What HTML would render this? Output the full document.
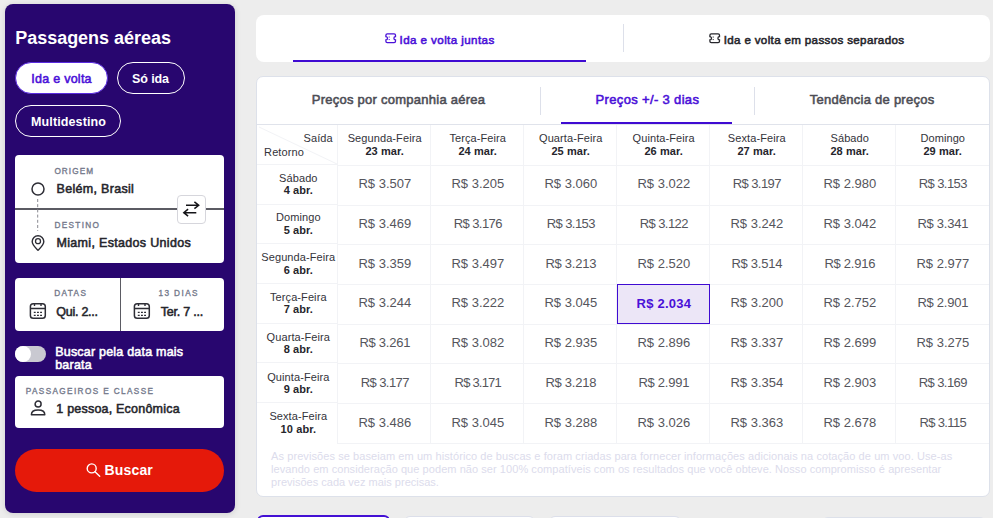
<!DOCTYPE html>
<html lang="pt-BR">
<head>
<meta charset="utf-8">
<title>Passagens aéreas</title>
<style>
*{box-sizing:border-box;margin:0;padding:0}
html,body{width:993px;height:518px;overflow:hidden}
body{background:#ededed;font-family:"Liberation Sans",sans-serif;color:#222;position:relative}
.a{position:absolute}
.t{position:absolute;white-space:nowrap;line-height:1}
#side{left:5px;top:4px;width:230px;height:509px;background:#28066f;border-radius:8px;box-shadow:0 1px 6px rgba(0,0,0,.13)}
.pill{position:absolute;height:32px;border:1px solid #fff;border-radius:16px}
.pill.on{background:#fff;border-color:#5a2be0}
.card{position:absolute;background:#fff;border-radius:4px}
#tabs{left:256px;top:15px;width:734px;height:47px;background:#fff;border-radius:8px}
#tbl{left:256px;top:76px;width:734px;height:421px;background:#fff;border:1px solid #dde1ea;border-radius:7px}
</style>
</head>
<body>

<!-- sidebar -->
<div class="a" id="side"></div>
<div class="pill on" style="left:15px;top:62px;width:93px"></div>
<div class="pill" style="left:117px;top:62px;width:68px"></div>
<div class="pill" style="left:15px;top:105px;width:106px"></div>

<div class="card" style="left:15px;top:155px;width:209px;height:108px"></div>
<div class="a" style="left:15px;top:208px;width:209px;height:2px;background:#5b5b63"></div>
<svg class="a" style="left:30px;top:181px" width="16" height="72" viewBox="0 0 16 72">
  <circle cx="8" cy="8" r="6" fill="none" stroke="#2e2e36" stroke-width="1.500"/>
  <line x1="7.700" y1="18" x2="7.700" y2="50" stroke="#8a8a92" stroke-width="1" stroke-dasharray="3 2.200"/>
  <path d="M8 69.300C5.500 66.800 2.200 64 2.200 60.600a5.800 5.800 0 0 1 11.600 0C13.800 64 10.500 66.800 8 69.300z" fill="none" stroke="#2e2e36" stroke-width="1.400" stroke-linejoin="round"/>
  <circle cx="8" cy="60.200" r="2.500" fill="none" stroke="#2e2e36" stroke-width="1.300"/>
</svg>
<div class="a" style="left:177px;top:195px;width:29px;height:29px;background:#fff;border:1px solid #d6d6dc;border-radius:4px"></div>
<svg class="a" style="left:177px;top:195px" width="29" height="29" viewBox="0 0 29 29">
  <path d="M9 10.250H21.500M17.400 6.800L21.700 10.250L17.400 13.700" fill="none" stroke="#141418" stroke-width="1.500"/>
  <path d="M19.300 17.700H7M11.100 14.200L6.800 17.700L11.100 21.200" fill="none" stroke="#141418" stroke-width="1.500"/>
</svg>

<div class="card" style="left:15px;top:278px;width:209px;height:53px"></div>
<div class="a" style="left:120px;top:278px;width:1px;height:53px;background:#5b5b63"></div>
<svg class="a" style="left:29px;top:302px" width="18" height="18" viewBox="0 0 18 18">
  <rect x="1.400" y="1.700" width="14.900" height="14.600" rx="2.800" fill="none" stroke="#2e2e36" stroke-width="1.500"/>
  <path d="M1.400 6.500h14.900M5.500 0.900v3M12 0.900v3" stroke="#2e2e36" stroke-width="1.400" fill="none"/>
  <path d="M4.800 10.300h1.900M8 10.300h1.900M11.100 10.300h1.900M4.800 13.300h1.900M8 13.300h1.900M11.100 13.300h1.900" stroke="#2e2e36" stroke-width="1.300"/>
</svg>
<svg class="a" style="left:133px;top:302px" width="18" height="18" viewBox="0 0 18 18">
  <rect x="1.400" y="1.700" width="14.900" height="14.600" rx="2.800" fill="none" stroke="#2e2e36" stroke-width="1.500"/>
  <path d="M1.400 6.500h14.900M5.500 0.900v3M12 0.900v3" stroke="#2e2e36" stroke-width="1.400" fill="none"/>
  <path d="M4.800 10.300h1.900M8 10.300h1.900M11.100 10.300h1.900M4.800 13.300h1.900M8 13.300h1.900M11.100 13.300h1.900" stroke="#2e2e36" stroke-width="1.300"/>
</svg>

<div class="a" style="left:15px;top:346px;width:31px;height:16px;border-radius:8px;background:#c9c9d1"></div>
<div class="a" style="left:15px;top:346px;width:16px;height:16px;border-radius:8px;background:#fff"></div>

<div class="card" style="left:15px;top:376px;width:209px;height:52px"></div>
<svg class="a" style="left:30px;top:400px" width="16" height="16" viewBox="0 0 16 16">
  <circle cx="8.100" cy="4.100" r="3" fill="none" stroke="#2e2e36" stroke-width="1.500"/>
  <path d="M1.400 14.650C1.400 11.600 4 9.950 8.100 9.950S14.800 11.600 14.800 14.650z" fill="none" stroke="#2e2e36" stroke-width="1.500" stroke-linejoin="round"/>
</svg>

<div class="a" style="left:15px;top:449px;width:209px;height:43px;border-radius:22px;background:#e5190a"></div>
<svg class="a" style="left:86px;top:462px" width="16" height="16" viewBox="0 0 16 16">
  <circle cx="5.700" cy="6.400" r="4.500" fill="none" stroke="#fff" stroke-width="1.400"/>
  <path d="M9 9.800l4.700 4.400" stroke="#fff" stroke-width="1.400" stroke-linecap="round"/>
</svg>

<!-- top tabs -->
<div class="a" id="tabs"></div>
<div class="a" style="left:293px;top:59.600px;width:293px;height:2.400px;background:#3f0bd2"></div>
<div class="a" style="left:623px;top:24px;width:1px;height:28px;background:#dde0ea"></div>
<svg class="a" style="left:385px;top:32.6px" width="12" height="11" viewBox="0 0 12 11">
  <path d="M2.300 0.900H9.100a1.400 1.400 0 0 1 1.400 1.400V3.700a1.600 1.600 0 0 0 0 3.200V8.300a1.400 1.400 0 0 1-1.400 1.400H2.300a1.400 1.400 0 0 1-1.400-1.400V6.900a1.600 1.600 0 0 0 0-3.200V2.300a1.400 1.400 0 0 1 1.400-1.400z" fill="none" stroke="#4a10d8" stroke-width="1.300"/>
  <path d="M4.200 3.500v1.100M4.200 6v1.100" stroke="#4a10d8" stroke-width="1"/>
</svg>
<svg class="a" style="left:709.1px;top:32.8px" width="12" height="11" viewBox="0 0 12 11">
  <path d="M2.300 0.900H9.100a1.400 1.400 0 0 1 1.400 1.400V3.700a1.600 1.600 0 0 0 0 3.200V8.300a1.400 1.400 0 0 1-1.400 1.400H2.300a1.400 1.400 0 0 1-1.400-1.400V6.900a1.600 1.600 0 0 0 0-3.200V2.300a1.400 1.400 0 0 1 1.400-1.400z" fill="none" stroke="#26262c" stroke-width="1.300"/>
  <path d="M4.200 3.500v1.100M4.200 6v1.100" stroke="#26262c" stroke-width="1"/>
</svg>

<!-- table card -->
<div class="a" id="tbl"></div>
<div class="a" style="left:540px;top:87px;width:1px;height:28px;background:#dde0ea"></div>
<div class="a" style="left:754px;top:87px;width:1px;height:28px;background:#dde0ea"></div>
<div class="a" style="left:257px;top:124px;width:732px;height:1px;background:#e0e3eb"></div>
<div class="a" style="left:561px;top:122px;width:171px;height:2px;background:#3f0bd2"></div>
<div class="a" style="left:257px;top:164px;width:81px;height:1px;background:#f2f3f6"></div><div class="a" style="left:338px;top:165px;width:651px;height:1px;background:#f2f3f6"></div>
<div class="a" style="left:257px;top:204px;width:81px;height:1px;background:#f2f3f6"></div><div class="a" style="left:338px;top:205px;width:651px;height:1px;background:#f2f3f6"></div>
<div class="a" style="left:257px;top:243px;width:81px;height:1px;background:#f2f3f6"></div><div class="a" style="left:338px;top:244px;width:651px;height:1px;background:#f2f3f6"></div>
<div class="a" style="left:257px;top:283px;width:81px;height:1px;background:#f2f3f6"></div><div class="a" style="left:338px;top:284px;width:651px;height:1px;background:#f2f3f6"></div>
<div class="a" style="left:257px;top:323px;width:81px;height:1px;background:#f2f3f6"></div><div class="a" style="left:338px;top:324px;width:651px;height:1px;background:#f2f3f6"></div>
<div class="a" style="left:257px;top:362px;width:81px;height:1px;background:#f2f3f6"></div><div class="a" style="left:338px;top:363px;width:651px;height:1px;background:#f2f3f6"></div>
<div class="a" style="left:257px;top:402px;width:81px;height:1px;background:#f2f3f6"></div><div class="a" style="left:338px;top:403px;width:651px;height:1px;background:#f2f3f6"></div>
<div class="a" style="left:338px;top:443px;width:651px;height:1px;background:#f2f3f6"></div>
<div class="a" style="left:337px;top:125px;width:1px;height:319px;background:#f2f3f6"></div>
<div class="a" style="left:430px;top:125px;width:1px;height:319px;background:#f2f3f6"></div>
<div class="a" style="left:523px;top:125px;width:1px;height:319px;background:#f2f3f6"></div>
<div class="a" style="left:616px;top:125px;width:1px;height:319px;background:#f2f3f6"></div>
<div class="a" style="left:709px;top:125px;width:1px;height:319px;background:#f2f3f6"></div>
<div class="a" style="left:802px;top:125px;width:1px;height:319px;background:#f2f3f6"></div>
<div class="a" style="left:895px;top:125px;width:1px;height:319px;background:#f2f3f6"></div>
<svg class="a" style="left:257px;top:125px" width="81" height="40" viewBox="0 0 81 40"><line x1="2" y1="2" x2="80" y2="39" stroke="#f2f3f6" stroke-width="1"/></svg>
<div class="a" style="left:617px;top:284px;width:93px;height:40px;background:#ece6f7;border:1px solid #3f0bd2"></div>

<div class="t" style="left:15.2px;top:29px;font-size:18px;color:#fff;letter-spacing:-0.02px;font-weight:700;">Passagens aéreas</div>
<div class="t" style="left:31.3px;top:73px;font-size:12.5px;color:#4a10d8;letter-spacing:0.26px;-webkit-text-stroke:0.55px #4a10d8;">Ida e volta</div>
<div class="t" style="left:132.0px;top:73px;font-size:12.5px;color:#fff;letter-spacing:-0.09px;font-weight:700;">Só ida</div>
<div class="t" style="left:31.0px;top:116px;font-size:12.5px;color:#fff;letter-spacing:0.12px;font-weight:700;">Multidestino</div>
<div class="t" style="left:54.4px;top:168px;font-size:8.2px;color:#757a8c;letter-spacing:1.10px;-webkit-text-stroke:0.35px #757a8c;">ORIGEM</div>
<div class="t" style="left:56.5px;top:183px;font-size:12.5px;color:#26262c;letter-spacing:0.31px;-webkit-text-stroke:0.55px #26262c;">Belém, Brasil</div>
<div class="t" style="left:54.4px;top:222px;font-size:8.2px;color:#757a8c;letter-spacing:1.36px;-webkit-text-stroke:0.35px #757a8c;">DESTINO</div>
<div class="t" style="left:56.5px;top:237px;font-size:12.5px;color:#26262c;letter-spacing:0.32px;-webkit-text-stroke:0.55px #26262c;">Miami, Estados Unidos</div>
<div class="t" style="left:54.3px;top:290px;font-size:8.2px;color:#757a8c;letter-spacing:1.38px;-webkit-text-stroke:0.35px #757a8c;">DATAS</div>
<div class="t" style="left:56.2px;top:306px;font-size:12.5px;color:#26262c;letter-spacing:-0.24px;-webkit-text-stroke:0.55px #26262c;">Qui. 2...</div>
<div class="t" style="left:158.4px;top:290px;font-size:8.2px;color:#757a8c;letter-spacing:1.44px;-webkit-text-stroke:0.35px #757a8c;">13 DIAS</div>
<div class="t" style="left:160.8px;top:306px;font-size:12.5px;color:#26262c;letter-spacing:-0.23px;-webkit-text-stroke:0.55px #26262c;">Ter. 7 ...</div>
<div class="t" style="left:55.2px;top:346px;font-size:12.5px;color:#fff;letter-spacing:0.21px;-webkit-text-stroke:0.55px #fff;">Buscar pela data mais</div>
<div class="t" style="left:55.2px;top:359px;font-size:12.5px;color:#fff;letter-spacing:0.21px;-webkit-text-stroke:0.55px #fff;">barata</div>
<div class="t" style="left:25.7px;top:388px;font-size:8.2px;color:#757a8c;letter-spacing:1.39px;-webkit-text-stroke:0.35px #757a8c;">PASSAGEIROS E CLASSE</div>
<div class="t" style="left:56.3px;top:403px;font-size:12.5px;color:#26262c;letter-spacing:0.21px;-webkit-text-stroke:0.55px #26262c;">1 pessoa, Econômica</div>
<div class="t" style="left:104.4px;top:463px;font-size:14px;color:#fff;letter-spacing:0.19px;font-weight:700;">Buscar</div>
<div class="t" style="left:399.6px;top:34px;font-size:11.6px;color:#4a10d8;letter-spacing:0.41px;-webkit-text-stroke:0.55px #4a10d8;">Ida e volta juntas</div>
<div class="t" style="left:723.7px;top:34px;font-size:11.6px;color:#26262c;letter-spacing:0.34px;-webkit-text-stroke:0.55px #26262c;">Ida e volta em passos separados</div>
<div class="t" style="left:311.8px;top:93px;font-size:13px;color:#4d4d55;letter-spacing:0.25px;-webkit-text-stroke:0.55px #4d4d55;">Preços por companhia aérea</div>
<div class="t" style="left:595.6px;top:93px;font-size:13px;color:#4a10d8;letter-spacing:0.34px;-webkit-text-stroke:0.55px #4a10d8;">Preços +/- 3 dias</div>
<div class="t" style="left:809.7px;top:93px;font-size:13px;color:#4d4d55;letter-spacing:0.25px;-webkit-text-stroke:0.55px #4d4d55;">Tendência de preços</div>
<div class="t" style="left:271.1px;top:451px;font-size:11px;color:#dcdcec;letter-spacing:0.08px;">As previsões se baseiam em um histórico de buscas e foram criadas para fornecer informações adicionais na cotação de um voo. Use-as</div>
<div class="t" style="left:271.1px;top:464px;font-size:11px;color:#dcdcec;letter-spacing:0.06px;">levando em consideração que podem não ser 100% compatíveis com os resultados que você obteve. Nosso compromisso é apresentar</div>
<div class="t" style="left:271.1px;top:477px;font-size:11px;color:#dcdcec;letter-spacing:0.01px;">previsões cada vez mais precisas.</div>
<div class="t" style="left:303.5px;top:133px;font-size:11px;color:#33333a;letter-spacing:0.09px;">Saída</div>
<div class="t" style="left:264.1px;top:147px;font-size:11px;color:#33333a;letter-spacing:0.09px;">Retorno</div>
<div class="t" style="left:347.7px;top:133px;font-size:11px;color:#33333a;letter-spacing:0.09px;">Segunda-Feira</div>
<div class="t" style="left:365.4px;top:146px;font-size:11px;color:#26262c;letter-spacing:0.10px;font-weight:700;">23 mar.</div>
<div class="t" style="left:449.4px;top:133px;font-size:11px;color:#33333a;letter-spacing:0.09px;">Terça-Feira</div>
<div class="t" style="left:458.4px;top:146px;font-size:11px;color:#26262c;letter-spacing:0.10px;font-weight:700;">24 mar.</div>
<div class="t" style="left:539.0px;top:133px;font-size:11px;color:#33333a;letter-spacing:0.09px;">Quarta-Feira</div>
<div class="t" style="left:551.4px;top:146px;font-size:11px;color:#26262c;letter-spacing:0.10px;font-weight:700;">25 mar.</div>
<div class="t" style="left:632.6px;top:133px;font-size:11px;color:#33333a;letter-spacing:0.09px;">Quinta-Feira</div>
<div class="t" style="left:644.4px;top:146px;font-size:11px;color:#26262c;letter-spacing:0.10px;font-weight:700;">26 mar.</div>
<div class="t" style="left:727.8px;top:133px;font-size:11px;color:#33333a;letter-spacing:0.09px;">Sexta-Feira</div>
<div class="t" style="left:737.4px;top:146px;font-size:11px;color:#26262c;letter-spacing:0.10px;font-weight:700;">27 mar.</div>
<div class="t" style="left:830.5px;top:133px;font-size:11px;color:#33333a;letter-spacing:0.09px;">Sábado</div>
<div class="t" style="left:830.4px;top:146px;font-size:11px;color:#26262c;letter-spacing:0.10px;font-weight:700;">28 mar.</div>
<div class="t" style="left:920.4px;top:133px;font-size:11px;color:#33333a;letter-spacing:0.09px;">Domingo</div>
<div class="t" style="left:923.4px;top:146px;font-size:11px;color:#26262c;letter-spacing:0.10px;font-weight:700;">29 mar.</div>
<div class="t" style="left:279.1px;top:173px;font-size:11px;color:#33333a;letter-spacing:0.09px;">Sábado</div>
<div class="t" style="left:283.7px;top:185px;font-size:11px;color:#26262c;letter-spacing:0.10px;font-weight:700;">4 abr.</div>
<div class="t" style="left:358.5px;top:177px;font-size:13px;color:#55555c;letter-spacing:-0.02px;">R$ 3.507</div>
<div class="t" style="left:451.5px;top:177px;font-size:13px;color:#55555c;letter-spacing:-0.02px;">R$ 3.205</div>
<div class="t" style="left:544.5px;top:177px;font-size:13px;color:#55555c;letter-spacing:-0.02px;">R$ 3.060</div>
<div class="t" style="left:637.5px;top:177px;font-size:13px;color:#55555c;letter-spacing:-0.02px;">R$ 3.022</div>
<div class="t" style="left:732.7px;top:177px;font-size:13px;color:#55555c;letter-spacing:-0.57px;">R$ 3.197</div>
<div class="t" style="left:823.5px;top:177px;font-size:13px;color:#55555c;letter-spacing:-0.02px;">R$ 2.980</div>
<div class="t" style="left:918.7px;top:177px;font-size:13px;color:#55555c;letter-spacing:-0.57px;">R$ 3.153</div>
<div class="t" style="left:276.0px;top:212px;font-size:11px;color:#33333a;letter-spacing:0.09px;">Domingo</div>
<div class="t" style="left:283.7px;top:225px;font-size:11px;color:#26262c;letter-spacing:0.10px;font-weight:700;">5 abr.</div>
<div class="t" style="left:358.5px;top:217px;font-size:13px;color:#55555c;letter-spacing:-0.02px;">R$ 3.469</div>
<div class="t" style="left:453.7px;top:217px;font-size:13px;color:#55555c;letter-spacing:-0.57px;">R$ 3.176</div>
<div class="t" style="left:546.7px;top:217px;font-size:13px;color:#55555c;letter-spacing:-0.57px;">R$ 3.153</div>
<div class="t" style="left:639.7px;top:217px;font-size:13px;color:#55555c;letter-spacing:-0.57px;">R$ 3.122</div>
<div class="t" style="left:730.5px;top:217px;font-size:13px;color:#55555c;letter-spacing:-0.02px;">R$ 3.242</div>
<div class="t" style="left:823.5px;top:217px;font-size:13px;color:#55555c;letter-spacing:-0.02px;">R$ 3.042</div>
<div class="t" style="left:917.4px;top:217px;font-size:13px;color:#55555c;letter-spacing:-0.25px;">R$ 3.341</div>
<div class="t" style="left:261.3px;top:252px;font-size:11px;color:#33333a;letter-spacing:0.09px;">Segunda-Feira</div>
<div class="t" style="left:283.7px;top:265px;font-size:11px;color:#26262c;letter-spacing:0.10px;font-weight:700;">6 abr.</div>
<div class="t" style="left:358.5px;top:257px;font-size:13px;color:#55555c;letter-spacing:-0.02px;">R$ 3.359</div>
<div class="t" style="left:451.5px;top:257px;font-size:13px;color:#55555c;letter-spacing:-0.02px;">R$ 3.497</div>
<div class="t" style="left:545.4px;top:257px;font-size:13px;color:#55555c;letter-spacing:-0.25px;">R$ 3.213</div>
<div class="t" style="left:637.5px;top:257px;font-size:13px;color:#55555c;letter-spacing:-0.02px;">R$ 2.520</div>
<div class="t" style="left:731.4px;top:257px;font-size:13px;color:#55555c;letter-spacing:-0.25px;">R$ 3.514</div>
<div class="t" style="left:824.4px;top:257px;font-size:13px;color:#55555c;letter-spacing:-0.25px;">R$ 2.916</div>
<div class="t" style="left:916.5px;top:257px;font-size:13px;color:#55555c;letter-spacing:-0.02px;">R$ 2.977</div>
<div class="t" style="left:270.0px;top:292px;font-size:11px;color:#33333a;letter-spacing:0.09px;">Terça-Feira</div>
<div class="t" style="left:283.7px;top:304px;font-size:11px;color:#26262c;letter-spacing:0.10px;font-weight:700;">7 abr.</div>
<div class="t" style="left:358.5px;top:296px;font-size:13px;color:#55555c;letter-spacing:-0.02px;">R$ 3.244</div>
<div class="t" style="left:451.5px;top:296px;font-size:13px;color:#55555c;letter-spacing:-0.02px;">R$ 3.222</div>
<div class="t" style="left:544.5px;top:296px;font-size:13px;color:#55555c;letter-spacing:-0.02px;">R$ 3.045</div>
<div class="t" style="left:636.6px;top:297px;font-size:13px;color:#4a10d8;letter-spacing:0.24px;font-weight:700;">R$ 2.034</div>
<div class="t" style="left:730.5px;top:296px;font-size:13px;color:#55555c;letter-spacing:-0.02px;">R$ 3.200</div>
<div class="t" style="left:823.5px;top:296px;font-size:13px;color:#55555c;letter-spacing:-0.02px;">R$ 2.752</div>
<div class="t" style="left:917.4px;top:296px;font-size:13px;color:#55555c;letter-spacing:-0.25px;">R$ 2.901</div>
<div class="t" style="left:266.6px;top:332px;font-size:11px;color:#33333a;letter-spacing:0.09px;">Quarta-Feira</div>
<div class="t" style="left:283.7px;top:344px;font-size:11px;color:#26262c;letter-spacing:0.10px;font-weight:700;">8 abr.</div>
<div class="t" style="left:359.4px;top:336px;font-size:13px;color:#55555c;letter-spacing:-0.25px;">R$ 3.261</div>
<div class="t" style="left:451.5px;top:336px;font-size:13px;color:#55555c;letter-spacing:-0.02px;">R$ 3.082</div>
<div class="t" style="left:544.5px;top:336px;font-size:13px;color:#55555c;letter-spacing:-0.02px;">R$ 2.935</div>
<div class="t" style="left:637.5px;top:336px;font-size:13px;color:#55555c;letter-spacing:-0.02px;">R$ 2.896</div>
<div class="t" style="left:730.5px;top:336px;font-size:13px;color:#55555c;letter-spacing:-0.02px;">R$ 3.337</div>
<div class="t" style="left:823.5px;top:336px;font-size:13px;color:#55555c;letter-spacing:-0.02px;">R$ 2.699</div>
<div class="t" style="left:916.5px;top:336px;font-size:13px;color:#55555c;letter-spacing:-0.02px;">R$ 3.275</div>
<div class="t" style="left:267.2px;top:372px;font-size:11px;color:#33333a;letter-spacing:0.09px;">Quinta-Feira</div>
<div class="t" style="left:283.7px;top:384px;font-size:11px;color:#26262c;letter-spacing:0.10px;font-weight:700;">9 abr.</div>
<div class="t" style="left:360.7px;top:376px;font-size:13px;color:#55555c;letter-spacing:-0.57px;">R$ 3.177</div>
<div class="t" style="left:454.6px;top:376px;font-size:13px;color:#55555c;letter-spacing:-0.80px;">R$ 3.171</div>
<div class="t" style="left:545.4px;top:376px;font-size:13px;color:#55555c;letter-spacing:-0.25px;">R$ 3.218</div>
<div class="t" style="left:638.4px;top:376px;font-size:13px;color:#55555c;letter-spacing:-0.25px;">R$ 2.991</div>
<div class="t" style="left:730.5px;top:376px;font-size:13px;color:#55555c;letter-spacing:-0.02px;">R$ 3.354</div>
<div class="t" style="left:823.5px;top:376px;font-size:13px;color:#55555c;letter-spacing:-0.02px;">R$ 2.903</div>
<div class="t" style="left:918.7px;top:376px;font-size:13px;color:#55555c;letter-spacing:-0.57px;">R$ 3.169</div>
<div class="t" style="left:269.4px;top:411px;font-size:11px;color:#33333a;letter-spacing:0.09px;">Sexta-Feira</div>
<div class="t" style="left:280.6px;top:424px;font-size:11px;color:#26262c;letter-spacing:0.10px;font-weight:700;">10 abr.</div>
<div class="t" style="left:358.5px;top:416px;font-size:13px;color:#55555c;letter-spacing:-0.02px;">R$ 3.486</div>
<div class="t" style="left:451.5px;top:416px;font-size:13px;color:#55555c;letter-spacing:-0.02px;">R$ 3.045</div>
<div class="t" style="left:544.5px;top:416px;font-size:13px;color:#55555c;letter-spacing:-0.02px;">R$ 3.288</div>
<div class="t" style="left:637.5px;top:416px;font-size:13px;color:#55555c;letter-spacing:-0.02px;">R$ 3.026</div>
<div class="t" style="left:730.5px;top:416px;font-size:13px;color:#55555c;letter-spacing:-0.02px;">R$ 3.363</div>
<div class="t" style="left:823.5px;top:416px;font-size:13px;color:#55555c;letter-spacing:-0.02px;">R$ 2.678</div>
<div class="t" style="left:919.6px;top:416px;font-size:13px;color:#55555c;letter-spacing:-0.67px;">R$ 3.115</div>



<!-- bottom cards peeking -->
<div class="a" style="left:257px;top:514.500px;width:133px;height:12px;border:2px solid #4310d4;border-radius:8px;background:#fff"></div>
<div class="a" style="left:404px;top:515.500px;width:131px;height:12px;border:1px solid #dcdfea;border-radius:8px;background:#fff"></div>
<div class="a" style="left:549px;top:515.500px;width:132px;height:12px;border:1px solid #dcdfea;border-radius:8px;background:#fff"></div>
<div class="a" style="left:822px;top:516.500px;width:164px;height:12px;border:1px solid #dde1ea;border-radius:6px;background:#eef0f4"></div>

</body>
</html>
